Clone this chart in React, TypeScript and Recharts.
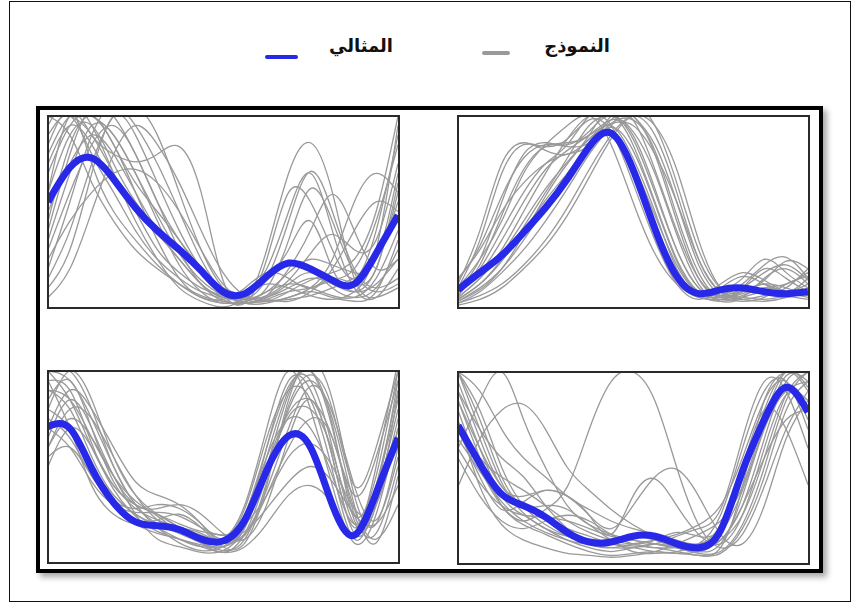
import { LineChart, Line, XAxis, YAxis } from 'recharts';

// sample positions along each panel (0 = left edge, 16 = right edge)
const POSITIONS = [0, 1, 2, 3, 4, 5, 6, 7, 8, 9, 10, 11, 12, 13, 14, 15, 16];

const LEGEND_MODEL = 'النموذج';
const LEGEND_IDEAL = 'المثالي';

// top-left panel
const IDEAL_1 = [55, 73, 78, 67, 52, 40, 30, 19, 8, 7, 16, 23, 20, 14, 12, 28, 48];
const MODEL_1 = [
  [70, 95, 100, 85, 60, 35, 15, 5, 2, 3, 8, 12, 10, 6, 5, 15, 40],
  [40, 80, 105, 100, 80, 55, 30, 12, 3, 2, 5, 10, 15, 12, 8, 20, 60],
  [85, 105, 95, 70, 45, 25, 10, 3, 0, 5, 20, 50, 70, 40, 10, 5, 20],
  [20, 55, 90, 105, 95, 75, 50, 25, 8, 2, 4, 8, 10, 14, 20, 45, 85],
  [60, 100, 90, 80, 76, 80, 84, 60, 14, 2, 5, 12, 18, 10, 5, 10, 30],
  [10, 30, 70, 100, 90, 65, 40, 20, 6, 3, 30, 70, 86, 60, 15, 5, 10],
  [90, 100, 80, 60, 40, 25, 15, 8, 4, 2, 25, 60, 55, 30, 15, 40, 90],
  [50, 75, 90, 80, 60, 40, 25, 12, 5, 4, 15, 45, 71, 50, 20, 10, 15],
  [30, 60, 85, 95, 80, 55, 35, 20, 10, 5, 3, 5, 10, 25, 55, 70, 60],
  [100, 90, 65, 45, 30, 20, 12, 6, 3, 2, 6, 20, 40, 59, 40, 20, 25],
  [45, 85, 100, 85, 65, 50, 35, 20, 8, 4, 6, 14, 28, 38, 30, 35, 75],
  [75, 95, 85, 65, 50, 38, 25, 12, 5, 8, 12, 10, 6, 4, 8, 30, 95],
  [15, 40, 75, 100, 105, 90, 60, 30, 10, 2, 2, 5, 8, 5, 3, 8, 35],
  [95, 105, 75, 50, 35, 22, 12, 5, 4, 10, 18, 15, 10, 20, 40, 55, 50],
  [35, 70, 95, 90, 70, 45, 22, 8, 2, 5, 15, 30, 45, 20, 8, 12, 25],
  [60, 90, 95, 75, 55, 40, 28, 18, 10, 6, 4, 3, 8, 15, 12, 20, 65],
  [5, 20, 50, 80, 95, 85, 65, 40, 18, 6, 3, 4, 6, 10, 15, 25, 55],
  [100, 100, 90, 70, 50, 30, 18, 10, 6, 4, 8, 18, 25, 22, 18, 25, 70],
  [25, 45, 60, 70, 72, 65, 50, 30, 12, 4, 3, 8, 14, 18, 25, 50, 100],
  [80, 100, 100, 90, 70, 48, 28, 14, 6, 3, 10, 35, 62, 45, 18, 8, 12],
];

// top-right panel
const IDEAL_2 = [9, 18, 27, 39, 52, 67, 84, 91, 72, 41, 16, 7, 9, 10, 8, 7, 8];
const MODEL_2 = [
  [5, 15, 30, 50, 70, 88, 100, 95, 70, 40, 15, 5, 6, 10, 8, 5, 10],
  [8, 25, 55, 80, 86, 85, 92, 100, 85, 55, 25, 8, 5, 8, 12, 10, 6],
  [3, 10, 20, 35, 52, 70, 85, 98, 100, 80, 45, 15, 5, 10, 20, 15, 8],
  [10, 35, 70, 85, 84, 88, 98, 92, 65, 35, 12, 4, 8, 15, 25, 18, 10],
  [2, 8, 18, 30, 45, 62, 80, 95, 105, 95, 65, 30, 10, 8, 12, 8, 15],
  [6, 20, 40, 60, 75, 85, 100, 102, 88, 60, 30, 10, 4, 6, 10, 12, 18],
  [12, 40, 75, 86, 82, 80, 88, 95, 78, 50, 20, 6, 3, 5, 8, 6, 4],
  [4, 12, 25, 42, 60, 78, 95, 100, 92, 70, 38, 12, 3, 5, 15, 20, 12],
  [8, 18, 35, 55, 72, 82, 90, 96, 95, 80, 55, 25, 8, 4, 6, 10, 20],
  [5, 15, 28, 45, 62, 76, 88, 92, 75, 48, 22, 8, 12, 18, 14, 8, 5],
  [15, 30, 50, 65, 75, 80, 85, 100, 98, 72, 40, 15, 6, 10, 18, 22, 14],
  [2, 6, 12, 22, 35, 52, 72, 90, 100, 90, 60, 25, 8, 5, 4, 6, 8],
  [10, 25, 45, 70, 85, 95, 100, 85, 55, 28, 12, 5, 4, 7, 10, 8, 6],
  [3, 9, 20, 38, 58, 75, 90, 105, 100, 85, 55, 22, 6, 3, 5, 12, 16],
  [6, 22, 48, 72, 84, 86, 90, 98, 90, 62, 30, 10, 6, 12, 22, 26, 15],
  [1, 4, 10, 20, 32, 48, 68, 88, 100, 95, 72, 35, 10, 4, 3, 5, 10],
  [14, 32, 58, 78, 85, 84, 86, 94, 82, 54, 24, 8, 10, 16, 12, 8, 12],
  [4, 12, 24, 40, 56, 70, 84, 96, 98, 82, 48, 18, 5, 8, 14, 24, 20],
];

// bottom-left panel
const IDEAL_3 = [71, 70, 49, 31, 21, 19, 17, 12, 11, 22, 48, 66, 60, 30, 14, 36, 65];
const MODEL_3 = [
  [90, 80, 55, 35, 25, 18, 12, 8, 10, 25, 60, 92, 95, 60, 20, 35, 80],
  [100, 95, 75, 50, 30, 20, 15, 10, 8, 20, 55, 90, 100, 70, 25, 15, 50],
  [65, 85, 70, 45, 30, 28, 30, 25, 15, 12, 30, 65, 85, 55, 15, 30, 75],
  [80, 100, 85, 55, 35, 25, 18, 10, 5, 15, 45, 80, 95, 75, 30, 10, 45],
  [55, 60, 45, 30, 20, 15, 12, 8, 5, 8, 20, 35, 40, 30, 15, 40, 90],
  [95, 70, 40, 25, 20, 22, 25, 18, 8, 10, 40, 85, 105, 85, 35, 20, 60],
  [70, 90, 80, 60, 42, 35, 30, 20, 10, 22, 60, 95, 90, 55, 18, 50, 105],
  [100, 85, 60, 40, 30, 25, 18, 12, 12, 30, 70, 100, 80, 40, 10, 25, 70],
  [60, 75, 65, 45, 25, 12, 8, 5, 6, 18, 50, 78, 85, 65, 28, 12, 30],
  [85, 95, 70, 42, 28, 22, 18, 14, 10, 14, 35, 60, 75, 65, 35, 55, 95],
  [75, 65, 45, 32, 28, 30, 28, 20, 12, 25, 55, 75, 70, 45, 20, 40, 85],
  [100, 100, 80, 50, 30, 18, 10, 6, 8, 20, 50, 88, 100, 72, 22, 30, 88],
  [50, 70, 60, 40, 30, 25, 20, 16, 14, 16, 28, 42, 50, 42, 25, 20, 40],
  [90, 85, 65, 45, 32, 24, 16, 10, 6, 12, 42, 82, 98, 80, 40, 60, 100],
  [80, 70, 50, 35, 25, 20, 18, 15, 10, 15, 38, 70, 92, 78, 40, 22, 55],
  [60, 80, 75, 55, 35, 22, 15, 12, 12, 28, 65, 90, 85, 48, 12, 35, 95],
  [95, 90, 62, 38, 24, 16, 12, 9, 8, 18, 48, 76, 80, 58, 24, 45, 100],
  [70, 60, 42, 30, 26, 26, 24, 18, 14, 20, 35, 55, 62, 50, 28, 30, 70],
];

// bottom-right panel
const IDEAL_4 = [72, 52, 36, 30, 24, 16, 11, 11, 14, 14, 10, 8, 17, 48, 75, 92, 79];
const MODEL_4 = [
  [90, 60, 35, 25, 18, 12, 8, 6, 8, 10, 8, 6, 15, 45, 80, 100, 90],
  [100, 75, 45, 30, 30, 28, 20, 12, 6, 5, 6, 10, 25, 60, 90, 95, 70],
  [60, 85, 100, 75, 50, 30, 20, 15, 12, 10, 8, 6, 10, 35, 70, 90, 95],
  [40, 65, 80, 83, 70, 50, 38, 28, 20, 14, 10, 8, 12, 30, 55, 75, 80],
  [80, 50, 30, 22, 28, 40, 70, 95, 100, 85, 50, 20, 8, 15, 40, 70, 90],
  [70, 45, 28, 32, 38, 35, 25, 18, 30, 45, 49, 35, 15, 10, 30, 65, 85],
  [85, 55, 30, 20, 15, 10, 6, 4, 5, 6, 5, 4, 8, 40, 85, 100, 100],
  [95, 65, 40, 35, 38, 35, 25, 15, 35, 44, 30, 15, 10, 25, 60, 88, 85],
  [75, 40, 20, 12, 8, 5, 4, 3, 4, 6, 10, 15, 22, 40, 75, 100, 92],
  [100, 90, 70, 55, 45, 35, 28, 22, 18, 15, 12, 10, 20, 50, 80, 70, 41],
  [65, 48, 32, 22, 16, 12, 10, 12, 14, 12, 8, 5, 6, 20, 50, 85, 100],
  [90, 70, 55, 45, 30, 18, 10, 8, 10, 12, 15, 20, 30, 55, 85, 95, 75],
  [55, 35, 22, 18, 22, 25, 22, 15, 10, 8, 6, 4, 5, 18, 45, 80, 95],
  [100, 80, 50, 30, 20, 14, 10, 8, 8, 10, 14, 18, 28, 65, 95, 90, 60],
  [85, 60, 40, 30, 24, 18, 14, 10, 8, 6, 5, 6, 12, 30, 65, 95, 100],
  [70, 55, 45, 38, 30, 22, 16, 12, 10, 12, 16, 14, 18, 45, 78, 92, 85],
  [100, 70, 42, 26, 18, 14, 12, 10, 9, 8, 8, 10, 16, 38, 72, 98, 95],
  [60, 42, 30, 25, 24, 22, 18, 14, 12, 10, 8, 8, 12, 25, 55, 88, 100],
];

const GRAY = '#999999';
const BLUE = '#2828e8';
const PANEL_W = 350;
const PANEL_H = 191;

function buildRows(model: number[][], ideal: number[]) {
  return POSITIONS.map((x, i) => {
    const row: Record<string, number> = { x, ideal: ideal[i] };
    model.forEach((curve, k) => {
      row['m' + k] = curve[i];
    });
    return row;
  });
}

function Panel({ left, top, model, ideal }: { left: number; top: number; model: number[][]; ideal: number[] }) {
  const data = buildRows(model, ideal);
  return (
    <div style={{ position: 'absolute', left, top, width: PANEL_W, height: PANEL_H }}>
      <LineChart width={PANEL_W} height={PANEL_H} data={data} margin={{ top: 0, right: 0, bottom: 0, left: 0 }}>
        <XAxis type="number" dataKey="x" domain={[0, 16]} hide />
        <YAxis type="number" domain={[0, 100]} allowDataOverflow hide />
        {model.map((_, k) => (
          <Line
            key={k}
            type="natural"
            dataKey={'m' + k}
            stroke={GRAY}
            strokeWidth={1.3}
            dot={false}
            isAnimationActive={false}
          />
        ))}
        <Line type="natural" dataKey="ideal" stroke={BLUE} strokeWidth={7} dot={false} isAnimationActive={false} />
      </LineChart>
      <div
        style={{
          position: 'absolute',
          left: -1,
          top: -1,
          width: PANEL_W - 1,
          height: PANEL_H - 1,
          border: '2px solid #2a2a2a',
          pointerEvents: 'none',
        }}
      />
    </div>
  );
}

export default function App() {
  return (
    <div
      style={{
        position: 'absolute',
        left: 0,
        top: 0,
        width: 852,
        height: 605,
        background: '#fff',
        fontFamily: '"DejaVu Sans", sans-serif',
      }}
    >
      {/* outer frame */}
      <div style={{ position: 'absolute', left: 9, top: 1, width: 840, height: 599, border: '1px solid #111' }} />

      {/* legend */}
      <div style={{ position: 'absolute', left: 482, top: 51, width: 28, height: 4, background: GRAY, borderRadius: 2 }} />
      <div
        dir="rtl"
        style={{ position: 'absolute', left: 538, top: 35, width: 72, fontSize: 18, fontWeight: 'bold', color: '#111', textAlign: 'right' }}
      >
        {LEGEND_MODEL}
      </div>
      <div style={{ position: 'absolute', left: 265, top: 55, width: 33, height: 4, background: BLUE, borderRadius: 2 }} />
      <div
        dir="rtl"
        style={{ position: 'absolute', left: 322, top: 35, width: 71, fontSize: 18, fontWeight: 'bold', color: '#111', textAlign: 'right' }}
      >
        {LEGEND_IDEAL}
      </div>

      {/* black frame with shadow */}
      <div
        style={{
          position: 'absolute',
          left: 36,
          top: 106,
          width: 779,
          height: 459,
          border: '4px solid #000',
          boxShadow: '4px 4px 6px rgba(0,0,0,0.35)',
          background: '#fff',
        }}
      />

      <Panel left={48} top={116} model={MODEL_1} ideal={IDEAL_1} />
      <Panel left={458} top={116} model={MODEL_2} ideal={IDEAL_2} />
      <Panel left={48} top={371} model={MODEL_3} ideal={IDEAL_3} />
      <Panel left={458} top={372} model={MODEL_4} ideal={IDEAL_4} />
    </div>
  );
}
